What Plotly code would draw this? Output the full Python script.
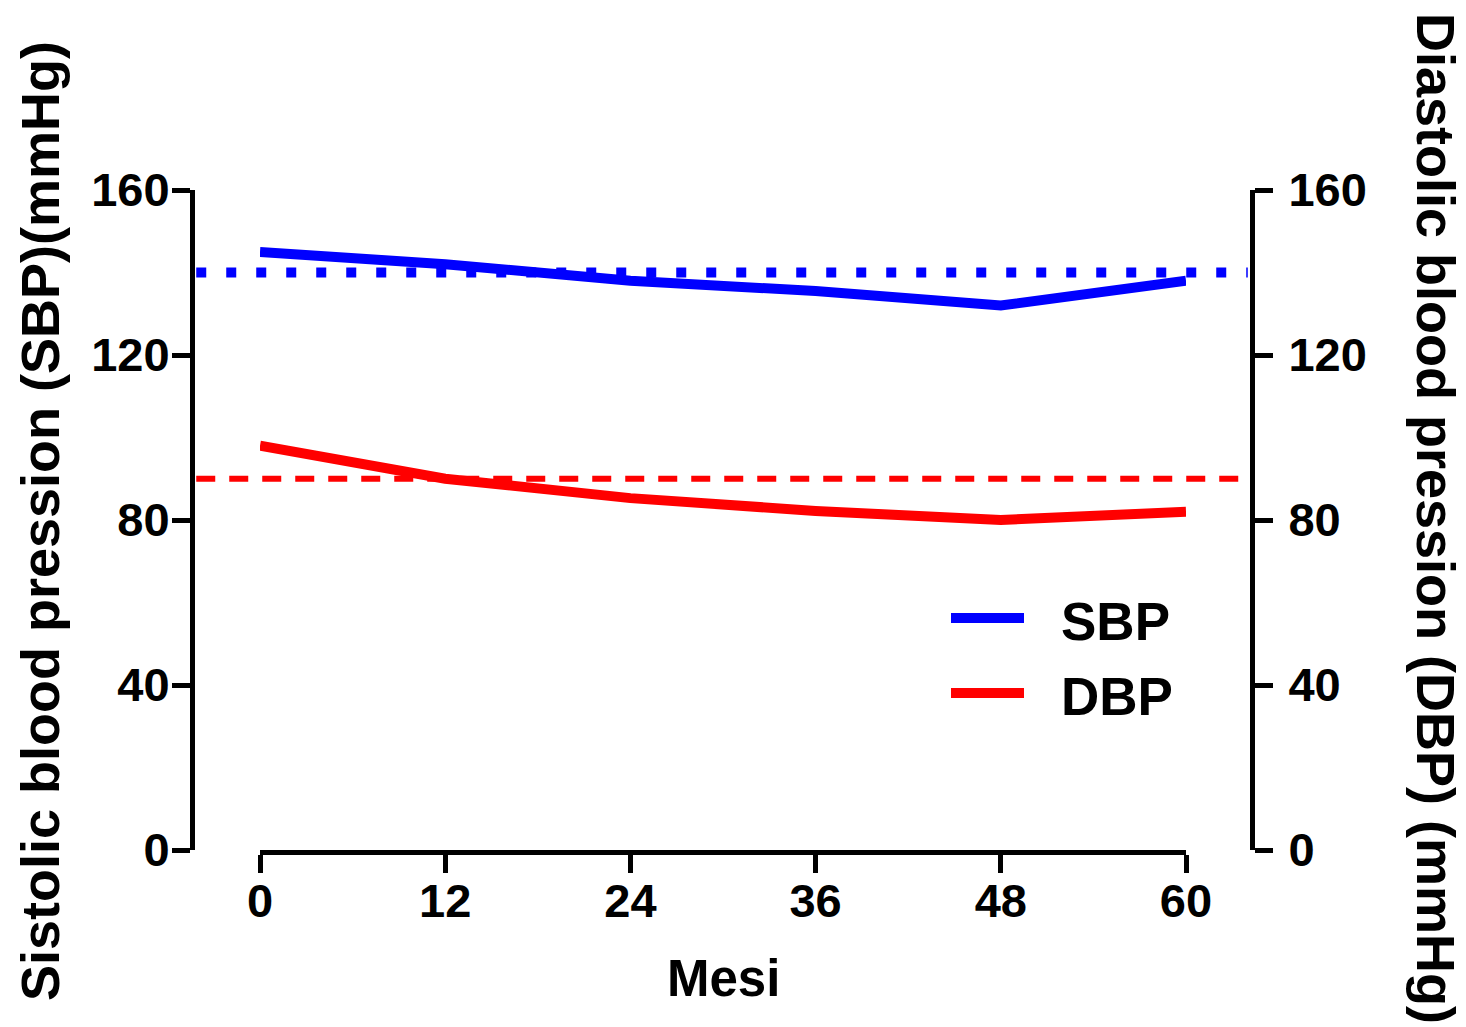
import plotly.graph_objects as go

months = [0, 12, 24, 36, 48, 60]
sbp = [145, 142, 138, 135.5, 132, 138]
dbp = [98, 90, 85.3, 82.2, 80, 82]
sbp_ref = 140
dbp_ref = 90
x_ticks = [0, 12, 24, 36, 48, 60]
y_ticks = [0, 40, 80, 120, 160]
series_names = ["SBP", "DBP"]
colors = ["#0000FF", "#FF0000"]

OFF = 8  # page body margin
W, H = 1466, 1027
L, R, T, B = 192 - OFF, W - 1252 + OFF, 190 - OFF, H - 850 + OFF
PW, PH = W - L - R, H - T - B

def px(x):
    return (x - OFF - L) / PW

def py(y):
    return (H - B - (y - OFF)) / PH

FONT = "Liberation Sans, Arial, sans-serif"
tickfont = dict(family=FONT, size=47, color="black", weight="bold")

fig = go.Figure()
fig.add_trace(go.Scatter(x=months, y=sbp, mode="lines", name=series_names[0],
                         line=dict(color=colors[0], width=10), showlegend=False,
                         xaxis="x", yaxis="y"))
fig.add_trace(go.Scatter(x=months, y=dbp, mode="lines", name=series_names[1],
                         line=dict(color=colors[1], width=10), showlegend=False,
                         xaxis="x", yaxis="y2"))

# reference lines
fig.add_shape(type="line", xref="paper", yref="y", x0=0.004, x1=0.996, y0=sbp_ref, y1=sbp_ref,
              line=dict(color=colors[0], width=10, dash="10px,20px"), layer="below")
fig.add_shape(type="line", xref="paper", yref="y", x0=0.004, x1=0.99, y0=dbp_ref, y1=dbp_ref,
              line=dict(color=colors[1], width=6, dash="19px,14px"), layer="below")

# manual legend
leg_y = [618, 693]
for i, name in enumerate(series_names):
    fig.add_shape(type="line", xref="paper", yref="paper", x0=px(951), x1=px(1024),
                  y0=py(leg_y[i]), y1=py(leg_y[i]), line=dict(color=colors[i], width=10))
    fig.add_annotation(xref="paper", yref="paper", x=px(1059), y=py(leg_y[i] + 3), text=name,
                       showarrow=False, xanchor="left", yanchor="middle",
                       font=dict(family=FONT, size=53, color="black", weight="bold"))

axis_common = dict(showgrid=False, zeroline=False, showline=True, linecolor="black", linewidth=5,
                   ticks="outside", ticklen=18, tickwidth=5, tickcolor="black", tickfont=tickfont)

fig.update_layout(
    width=W, height=H,
    margin=dict(l=L, r=R, t=T, b=B),
    paper_bgcolor="white", plot_bgcolor="white",
    showlegend=False,
    xaxis=dict(domain=[px(260), px(1186)], range=[0, 60], tickvals=x_ticks, anchor="y",
               ticklabelstandoff=-12, **axis_common),
    yaxis=dict(range=[0, 160], tickvals=y_ticks, anchor="free", position=0, side="left",
               ticklabelstandoff=-7, **axis_common),
    yaxis2=dict(range=[0, 160], tickvals=y_ticks, anchor="free", position=1, side="right",
                overlaying="y", ticklabelstandoff=6, **axis_common),
)

fig.add_annotation(xref="paper", yref="paper", x=px(723), y=py(978), text="Mesi", showarrow=False,
                   xanchor="center", yanchor="middle",
                   font=dict(family=FONT, size=51, color="black", weight="bold"))
fig.add_annotation(xref="paper", yref="paper", x=px(40), y=py(521),
                   text="Sistolic blood pression (SBP)(mmHg)", showarrow=False, textangle=-90,
                   xanchor="center", yanchor="middle",
                   font=dict(family=FONT, size=54, color="black", weight="bold"))
fig.add_annotation(xref="paper", yref="paper", x=px(1436), y=py(518),
                   text="Diastolic blood pression (DBP) (mmHg)", showarrow=False, textangle=90,
                   xanchor="center", yanchor="middle",
                   font=dict(family=FONT, size=54, color="black", weight="bold"))

fig.write_html("out.html")
